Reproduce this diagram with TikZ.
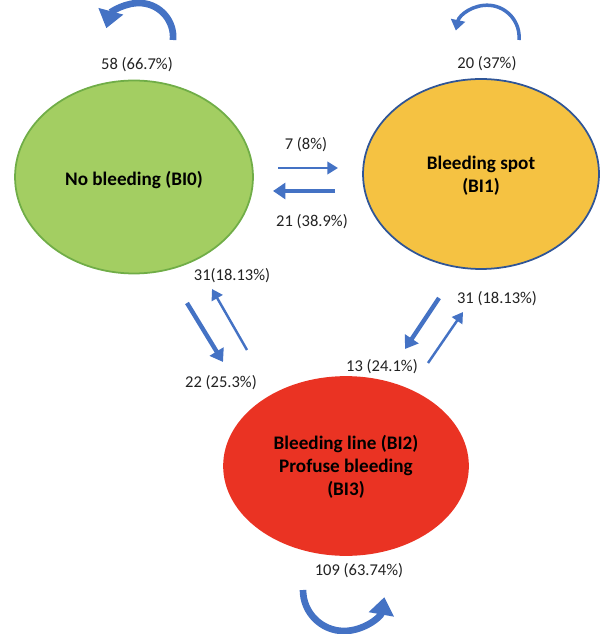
\documentclass[tikz,border=0pt]{standalone}
\usepackage{fontspec}
\setmainfont{Carlito}
\usetikzlibrary{arrows.meta,shapes.geometric}
\definecolor{arrblue}{HTML}{4472C4}
\definecolor{gfill}{HTML}{A3CE62}
\definecolor{gdraw}{HTML}{70AD47}
\definecolor{ofill}{HTML}{F5C242}
\definecolor{odraw}{HTML}{2F5597}
\definecolor{rfill}{HTML}{EA3323}
\definecolor{txt}{HTML}{222222}
\begin{document}
\begin{tikzpicture}[x=0.02cm,y=-0.02cm,
  state/.style={ellipse, inner sep=0pt, line width=1pt, font=\fontsize{10.9}{13}\selectfont\bfseries, align=center, text=black},
  stxt/.style={font=\fontsize{10.9}{13}\selectfont\bfseries, align=center, text=black},
  lbl/.style={font=\fontsize{9.4}{11}\selectfont, text=txt, inner sep=0pt},
  thinarr/.style={draw=arrblue, line width=1.4pt, -{Triangle[length=6pt,width=7pt]}},
  thickarr/.style={draw=arrblue, line width=2.5pt, -{Triangle[length=7pt,width=9pt]}},
  bigloop/.style={draw=arrblue, line width=3.8pt, -{Triangle[length=10pt,width=14pt]}},
  smallloop/.style={draw=arrblue, line width=2pt, -{Triangle[length=6pt,width=8pt]}}]
\useasboundingbox (0,0) rectangle (600,634);
% states
\node[state, draw=gdraw, fill=gfill, minimum width=4.76cm, minimum height=3.86cm] (bi0) at (134,177) {};
\node[stxt] (t0) at (134,180) {No bleeding (BI0)};
\node[state, draw=odraw, fill=ofill, minimum width=4.72cm, minimum height=3.8cm] (bi1) at (481,174) {};
\node[stxt] (t1) at (481,176) {Bleeding spot\\(BI1)};
\node[state, draw=rfill, fill=rfill, minimum width=4.88cm, minimum height=3.56cm] (bi23) at (346,466) {};
\node[stxt] (t23) at (346,467) {Bleeding line (BI2)\\Profuse bleeding\\(BI3)};
% labels
\node[lbl] (l58) at (137,65) {58 (66.7\%)};
\node[lbl] (l20) at (487,64) {20 (37\%)};
\node[lbl] (l7) at (306,145) {7 (8\%)};
\node[lbl] (l21) at (312,222) {21 (38.9\%)};
\node[lbl] (l31a) at (232,276) {31(18.13\%)};
\node[lbl] (l22) at (221,383) {22 (25.3\%)};
\node[lbl] (l31b) at (497,299) {31 (18.13\%)};
\node[lbl] (l13) at (382,367) {13 (24.1\%)};
\node[lbl] (l109) at (359,571) {109 (63.74\%)};
% straight arrow end points
\coordinate (a1s) at (278,168); \coordinate (a1e) at (338,168);
\coordinate (a2s) at (335,191); \coordinate (a2e) at (273,191);
\coordinate (a3s) at (187,303); \coordinate (a3e) at (223,362);
\coordinate (a4s) at (247,350); \coordinate (a4e) at (212,289);
\coordinate (a5s) at (439,298); \coordinate (a5e) at (405,349);
\coordinate (a6s) at (428,363); \coordinate (a6e) at (463,312);
\draw[thinarr] (a1s) -- (a1e);
\draw[thickarr] (a2s) -- (a2e);
\draw[thickarr] (a3s) -- (a3e);
\draw[thinarr] (a4s) -- (a4e);
\draw[thickarr] (a5s) -- (a5e);
\draw[thinarr] (a6s) -- (a6e);
% loops
\coordinate (lp0) at (173,40);
\draw[bigloop] (lp0) arc[start angle=-5, end angle=165, radius=0.68cm];
\coordinate (lp1) at (519,40);
\draw[smallloop] (lp1) arc[start angle=-5, end angle=168, radius=0.64cm];
\coordinate (lp2) at (303,590);
\draw[bigloop] (lp2) arc[start angle=180, end angle=350, radius=0.82cm];
\end{tikzpicture}
\end{document}
